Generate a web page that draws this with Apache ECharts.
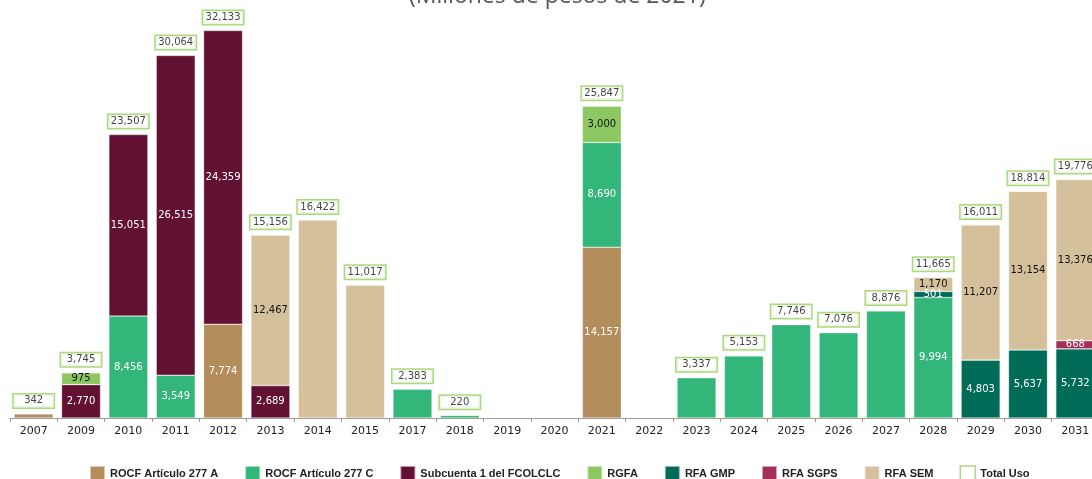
<!DOCTYPE html>
<html>
<head>
<meta charset="utf-8">
<script src="https://cdn.jsdelivr.net/npm/echarts@6/dist/echarts.min.js"></script>
<style>
  html, body { margin: 0; padding: 0; background: #fff; overflow: hidden; }
  #chart { width: 1100px; height: 479px; }
</style>
</head>
<body>
<div id="chart"></div>
<script>
// categorías (años) y series en millones de pesos de 2021
const years = ['2007', '2009', '2010', '2011', '2012', '2013', '2014', '2015', '2017', '2018', '2019', '2020',
    '2021', '2022', '2023', '2024', '2025', '2026', '2027', '2028', '2029', '2030', '2031'];

const rocfA = [342, null, null, null, 7774, null, null, null, null, null, null, null,
    14157, null, null, null, null, null, null, null, null, null, null];
const rocfC = [null, null, 8456, 3549, null, null, null, null, 2383, 220, null, null,
    8690, null, 3337, 5153, 7746, 7076, 8876, 9994, null, null, null];
const subcuenta = [null, 2770, 15051, 26515, 24359, 2689, null, null, null, null, null, null,
    null, null, null, null, null, null, null, null, null, null, null];
const rgfa = [null, 975, null, null, null, null, null, null, null, null, null, null,
    3000, null, null, null, null, null, null, null, null, null, null];
const rfaGmp = [null, null, null, null, null, null, null, null, null, null, null, null,
    null, null, null, null, null, null, null, 501, 4803, 5637, 5732];
const rfaSgps = [null, null, null, null, null, null, null, null, null, null, null, null,
    null, null, null, null, null, null, null, null, null, null, 668];
const rfaSem = [null, null, null, null, null, 12467, 16422, 11017, null, null, null, null,
    null, null, null, null, null, null, null, 1170, 11207, 13154, 13376];
const totalUso = [342, 3745, 23507, 30064, 32133, 15156, 16422, 11017, 2383, 220, null, null,
    25847, null, 3337, 5153, 7746, 7076, 8876, 11665, 16011, 18814, 19776];

const FONT = 'DejaVu Sans';
const fmt = v => Number(v).toLocaleString('en-US');

const stackDefs = [
    { name: 'ROCF Artículo 277 A', data: rocfA, color: '#b38d5b', text: '#fff' },
    { name: 'ROCF Artículo 277 C', data: rocfC, color: '#33b679', text: '#fff' },
    { name: 'Subcuenta 1 del FCOLCLC', data: subcuenta, color: '#621132', text: '#fff' },
    { name: 'RGFA', data: rgfa, color: '#8cc862', text: '#111' },
    { name: 'RFA GMP', data: rfaGmp, color: '#006b56', text: '#fff' },
    { name: 'RFA SGPS', data: rfaSgps, color: '#a4305a', text: '#fff' },
    { name: 'RFA SEM', data: rfaSem, color: '#d4c19c', text: '#111' },
];

// solo se etiquetan los segmentos cuando la barra tiene más de un componente
const segCount = years.map((_, i) => stackDefs.filter(s => s.data[i]).length);

const barSeries = stackDefs.map(s => ({
    name: s.name,
    type: 'bar',
    stack: 'uso',
    barWidth: 39,
    itemStyle: {
        color: s.color,
        borderColor: 'rgba(255,255,255,0.55)',
        borderWidth: 0.6,
    },
    label: {
        show: true,
        position: 'inside',
        color: s.text,
        fontFamily: FONT,
        fontSize: 10,
        formatter: p => fmt(p.value),
    },
    data: s.data.map((v, i) => ({
        value: v,
        label: { show: v != null && segCount[i] > 1 },
    })),
}));

const chart = echarts.init(document.getElementById('chart'));

chart.setOption({
    animation: false,
    title: {
        text: '(Millones de pesos de 2021)',
        left: 404,
        top: -20,
        textStyle: {
            fontFamily: 'Open Sans',
            fontSize: 23,
            fontWeight: 'normal',
            color: '#555',
        },
    },
    legend: {
        top: 460,
        left: 84,
        itemWidth: 15,
        itemHeight: 15,
        itemGap: 26,
        textStyle: {
            fontFamily: 'Liberation Sans',
            fontSize: 11,
            fontWeight: 'bold',
            color: '#222',
        },
        data: stackDefs.map(s => ({ name: s.name, icon: 'rect' })).concat([{
            name: 'Total Uso',
            icon: 'rect',
            itemStyle: { color: '#fff', borderColor: '#97d05f', borderWidth: 1.5 },
        }]),
    },
    grid: {
        left: 10,
        right: 1,
        top: 8,
        bottom: 61,
    },
    xAxis: {
        type: 'category',
        data: years,
        axisLine: { lineStyle: { color: '#9a9a9a', width: 1 } },
        axisTick: { show: true, length: 4, lineStyle: { color: '#9a9a9a' } },
        axisLabel: {
            fontFamily: FONT,
            fontSize: 11,
            color: '#222',
            margin: 8,
            interval: 0,
        },
    },
    yAxis: {
        type: 'value',
        min: 0,
        max: 34000,
        show: false,
    },
    series: barSeries.concat([{
        name: 'Total Uso',
        type: 'scatter',
        symbol: 'rect',
        symbolSize: 1,
        itemStyle: { color: 'rgba(255,255,255,0)' },
        label: {
            show: true,
            position: 'top',
            distance: 6,
            formatter: p => fmt(p.value),
            fontFamily: FONT,
            fontSize: 10,
            color: '#111',
            width: 34,
            align: 'center',
            lineHeight: 11,
            padding: [1, 3, 1, 3],
            backgroundColor: '#fff',
            borderColor: '#97d05f',
            borderWidth: 1.5,
        },
        data: totalUso,
        z: 5,
    }]),
});
</script>
</body>
</html>
